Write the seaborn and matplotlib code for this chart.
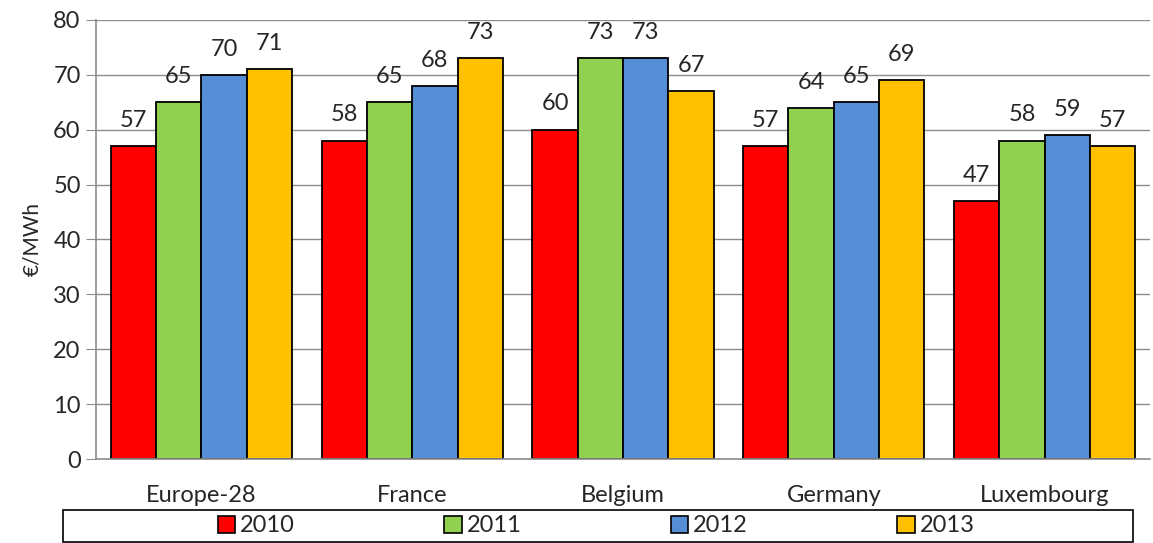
import matplotlib
matplotlib.use("Agg")
import matplotlib.pyplot as plt
import seaborn as sns
import pandas as pd
from matplotlib.patches import Rectangle, Patch

categories = ["Europe-28", "France", "Belgium", "Germany", "Luxembourg"]
years = ["2010", "2011", "2012", "2013"]
v2010 = [57, 58, 60, 57, 47]
v2011 = [65, 65, 73, 64, 58]
v2012 = [70, 68, 73, 65, 59]
v2013 = [71, 73, 67, 69, 57]
colors = ["#FF0000", "#92D050", "#558ED5", "#FFC000"]

rows = []
for y, vals in zip(years, [v2010, v2011, v2012, v2013]):
    for c, v in zip(categories, vals):
        rows.append({"cat": c, "year": y, "val": v})
df = pd.DataFrame(rows)

sns.set_style("white")
plt.rcParams["font.family"] = ["Lato", "DejaVu Sans"]

fig = plt.figure(figsize=(11.53, 5.43), dpi=100)
ax = fig.add_axes([96/1153, 84/543, (1150-96)/1153, (459-20)/543])

sns.barplot(data=df, x="cat", y="val", hue="year", order=categories,
            hue_order=years, palette=colors, width=0.86, ax=ax,
            edgecolor="black", linewidth=1.3, saturation=1, legend=False)

for cont in ax.containers:
    ax.bar_label(cont, padding=11, fontsize=17)

ax.set_ylim(0, 80)
ax.set_yticks(range(0, 81, 10))
ax.set_xlim(-0.5, 4.5)
ax.yaxis.grid(True, color="#8c8c8c", linewidth=1)
ax.set_axisbelow(True)
for s in ["top", "right"]:
    ax.spines[s].set_visible(False)
for s in ["left", "bottom"]:
    ax.spines[s].set_color("#8c8c8c")
    ax.spines[s].set_linewidth(1.2)
ax.tick_params(axis="y", length=7, color="#8c8c8c", labelsize=17, pad=4, left=True)
ax.tick_params(axis="x", length=0, labelsize=17, pad=19)
ax.set_xlabel("")
ax.set_ylabel("€/MWh", fontsize=15, labelpad=8)

handles = [Patch(facecolor=c, edgecolor="black", linewidth=1.2) for c in colors]
fig.legend(handles, years, loc="center", bbox_to_anchor=(596/1153, 17/543),
           ncol=4, frameon=False, fontsize=17, handlelength=0.75, handleheight=0.75,
           handletextpad=0.2, columnspacing=6.32, borderaxespad=0)
fig.add_artist(Rectangle((63/1153, 1/543), 1070/1153, 32/543, transform=fig.transFigure,
                         fill=False, edgecolor="black", linewidth=1.2))

fig.savefig("out.png", dpi=100)
